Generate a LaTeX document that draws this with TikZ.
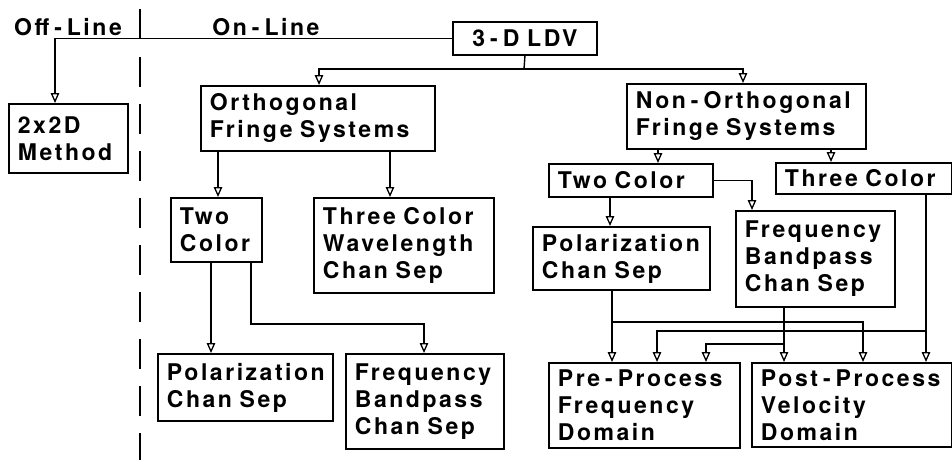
\documentclass[tikz,border=0pt]{standalone}
\usepackage{fontspec}
\setmainfont{TeX Gyre Heros}[LetterSpace=11,WordSpace=1.6]
\usetikzlibrary{arrows.meta}
\newcommand\hy{\kern5pt\mbox{-}\kern5pt}
\hyphenpenalty=10000
\exhyphenpenalty=10000
\begin{document}
\begin{tikzpicture}[x=1pt,y=-1pt,
  txt/.style={font=\fontsize{23}{27}\selectfont\bfseries},
  box/.style={txt, draw, line width=1.9pt, anchor=north west, inner xsep=9pt, inner ysep=0pt, align=left},
  conn/.style={line width=1.4pt},
  arr/.style={conn, -{Triangle[open, width=8.5pt, length=10pt, line width=1.3pt]}},
  sep/.style={line width=2.6pt}]
\useasboundingbox (0,0) rectangle (952,460);

% labels
\node[txt] (off) at (68,27) {Off\hy Line};
\node[txt] (on) at (266,27) {On\hy Line};

% boxes
\node[box, align=center, text width=126pt, minimum height=33pt] (ldv) at (452,21) {3\hy D~LDV};
\node[box, text width=101pt, minimum height=69pt] (twod) at (8,103) {2x2D\\Method};
\node[box, text width=216pt, minimum height=65pt] (orth) at (200,85) {Orthogonal\\Fringe~Systems};
\node[box, text width=221pt, minimum height=65pt] (nonorth) at (626,83) {Non\hy Orthogonal\\Fringe~Systems};
\node[box, text width=73pt, minimum height=64pt] (tcL) at (170,197) {Two\\Color};
\node[box, text width=162pt, minimum height=95pt] (tcw) at (313,197) {Three~Color\\Wavelength\\Chan~Sep};
\node[box, text width=157pt, minimum height=67pt] (polL) at (157,353) {Polarization\\Chan~Sep};
\node[box, text width=140pt, minimum height=95pt] (freqL) at (345,353) {Frequency\\Bandpass\\Chan~Sep};
\node[box, text width=146pt, minimum height=33pt] (tcR) at (548,163) {Two~Color};
\node[box, text width=158pt, minimum height=31pt] (threeR) at (775,162) {Three~Color};
\node[box, text width=159pt, minimum height=63pt] (polR) at (532,226) {Polarization\\Chan~Sep};
\node[box, text width=141pt, minimum height=96pt] (freqR) at (735,210) {Frequency\\Bandpass\\Chan~Sep};
\node[box, text width=173pt, minimum height=85pt] (pre) at (548,362) {Pre\hy Process\\Frequency\\Domain};
\node[box, text width=182pt, minimum height=84pt] (post) at (751,362) {Post\hy Process\\Velocity\\Domain};

% separator
\draw[sep] (140,9) -- (140,39);
\draw[sep, dash pattern=on 30pt off 17pt] (140,57) -- (140,460);

% connectors
\draw[arr] (ldv.west) -| (55,0 |- twod.north);
\coordinate (j1) at (524,69);
\draw[conn] (ldv.south) -- (j1);
\draw[arr] (j1) -| (319,0 |- orth.north);
\draw[arr] (j1) -| (743,0 |- nonorth.north);

\draw[arr] (218,0 |- orth.south) -- (218,0 |- tcL.north);
\draw[arr] (390,0 |- orth.south) -- (390,0 |- tcw.north);
\draw[arr] (658,0 |- nonorth.south) -- (658,0 |- tcR.north);
\draw[arr] (831,0 |- nonorth.south) -- (831,0 |- threeR.north);

\draw[arr] (211,0 |- tcL.south) -- (211,0 |- polL.north);
\draw[arr] (251,0 |- tcL.south) |- (424,324) -- (424,0 |- freqL.north);

\draw[arr] (610,0 |- tcR.south) -- (610,0 |- polR.north);
\draw[arr] (tcR.east) -| (752,0 |- freqR.north);

\draw[arr] (612,0 |- polR.south) -- (612,0 |- pre.north);
\draw[arr] (612,322) -| (863,0 |- post.north);
\draw[arr] (926,0 |- threeR.south) -- (926,0 |- post.north);
\draw[arr] (926,331) -| (657,0 |- pre.north);
\draw[arr] (784,0 |- freqR.south) -- (784,0 |- post.north);
\draw[arr] (784,344) -| (706,0 |- pre.north);
\end{tikzpicture}
\end{document}
